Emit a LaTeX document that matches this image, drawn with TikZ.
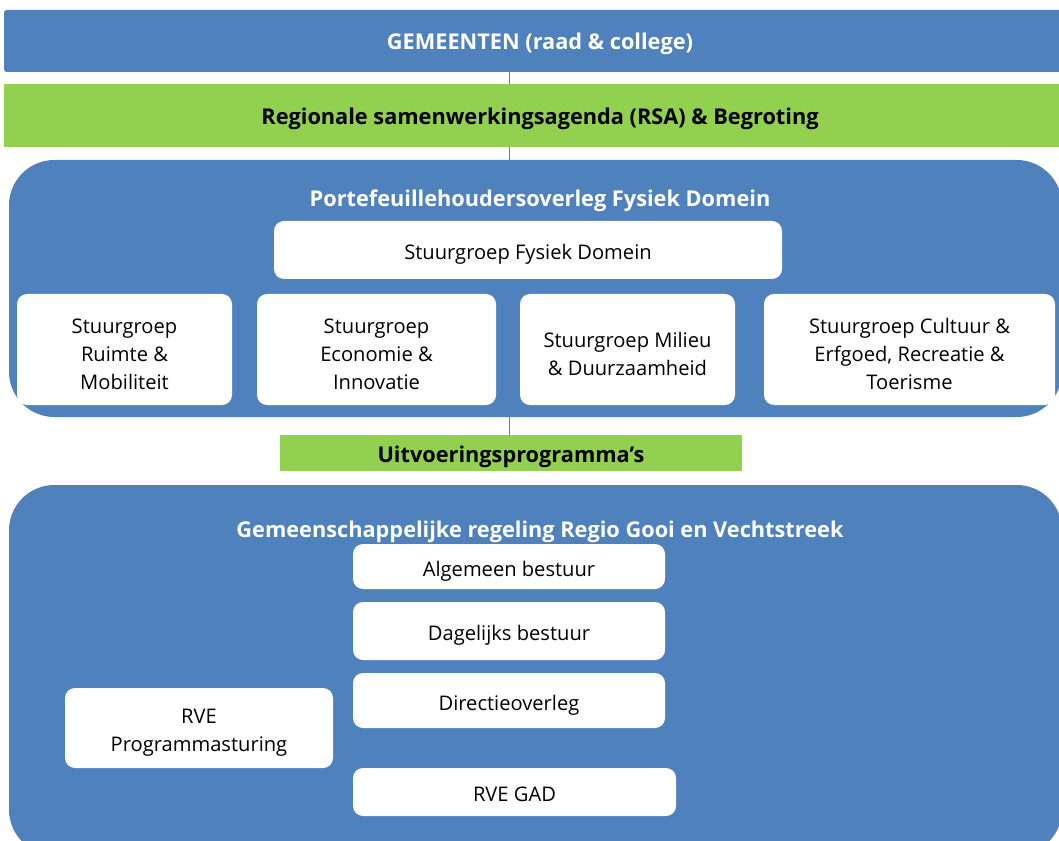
\documentclass[tikz,border=0pt]{standalone}
\usepackage{fontspec}
\setmainfont{Open Sans}
\usepackage{tikz}
\usetikzlibrary{calc}

\definecolor{vakblauw}{HTML}{4F81BD}
\definecolor{vakgroen}{HTML}{92D050}

% steunen om de tekst iets lager in de vakken te zetten
\newcommand{\vakstrut}{\rule[-3.6pt]{0pt}{21.5pt}}
\newcommand{\balkstrut}{\rule[-4pt]{0pt}{21.5pt}}

\begin{document}
\begin{tikzpicture}[%
		x=0.75pt, y=-0.75pt,
		tekst/.style={font=\fontsize{15.1}{21}\selectfont},
		kop/.style={font=\fontsize{16.3}{21}\selectfont\bfseries},
		balk/.style={fill=vakblauw, rounded corners=2pt, inner sep=0pt, kop, text=white},
		groenbalk/.style={fill=vakgroen, inner sep=0pt, kop, text=black},
		blok/.style={fill=vakblauw, rounded corners=34pt, inner sep=0pt},
		vak/.style={fill=white, rounded corners=7.5pt, inner sep=0pt, tekst, align=center},
		bw/.style={minimum width={#1*0.75pt}},
		bh/.style={minimum height={#1*0.75pt}},
		lijn/.style={draw=vakblauw, line width=0.75pt}
		]

		%% Rand van het plaatje
		\useasboundingbox (0,0) rectangle (1059,841);
		\clip (0,0) rectangle (1059,841);

		\coordinate (as) at (509,0);

		\node[balk, bw=1072, bh=62] (gem) at (540,41) {\balkstrut GEMEENTEN (raad \& college)};
		\node[groenbalk, bw=1072, bh=63] (rsa) at (540,115.5) {\balkstrut Regionale samenwerkingsagenda (RSA) \& Begroting};

		%% Portefeuillehoudersoverleg
		\node[blok, bw=1053, bh=257] (pfo) at (535.5,288.5) {};
		\node[kop, text=white] (pfotitel) at (540,201) {Portefeuillehoudersoverleg Fysiek Domein};
		\node[vak, bw=508, bh=58] (sfd) at (528,250) {\vakstrut Stuurgroep Fysiek Domein};
		\node[vak, bw=215, bh=111] (srm) at (124.5,349.5) {\vakstrut Stuurgroep\\Ruimte \&\\Mobiliteit};
		\node[vak, bw=239, bh=111] (sei) at (376.5,349.5) {\vakstrut Stuurgroep\\Economie \&\\Innovatie};
		\node[vak, bw=215, bh=111] (smd) at (627.5,349.5) {\vakstrut Stuurgroep Milieu\\\& Duurzaamheid};
		\node[vak, bw=291, bh=111] (sce) at (909.5,349.5) {\vakstrut Stuurgroep Cultuur \&\\Erfgoed, Recreatie \&\\Toerisme};

		\node[groenbalk, bw=462, bh=36] (uit) at (511,453) {\balkstrut Uitvoeringsprogramma’s};

		%% Gemeenschappelijke regeling
		\node[blok, bw=1053, bh=370] (grgv) at (535.5,670) {};
		\node[kop, text=white] (grtitel) at (540,532) {Gemeenschappelijke regeling Regio Gooi en Vechtstreek};
		\node[vak, bw=312, bh=45] (ab) at (509,566.5) {\vakstrut Algemeen bestuur};
		\node[vak, bw=312, bh=58] (db) at (509,631) {\vakstrut Dagelijks bestuur};
		\node[vak, bw=312, bh=55] (do) at (509,700.5) {\vakstrut Directieoverleg};
		\node[vak, bw=323, bh=48] (gad) at (514.5,792) {\vakstrut RVE GAD};
		\node[vak, bw=268, bh=80] (rvep) at (199,728) {\vakstrut RVE\\Programmasturing};

		\draw[lijn] (gem.south -| as) -- (rsa.north -| as);
		\draw[lijn] (rsa.south -| as) -- (pfo.north -| as);
		\draw[lijn] (pfo.south -| as) -- (uit.north -| as);
	\end{tikzpicture}
\end{document}
